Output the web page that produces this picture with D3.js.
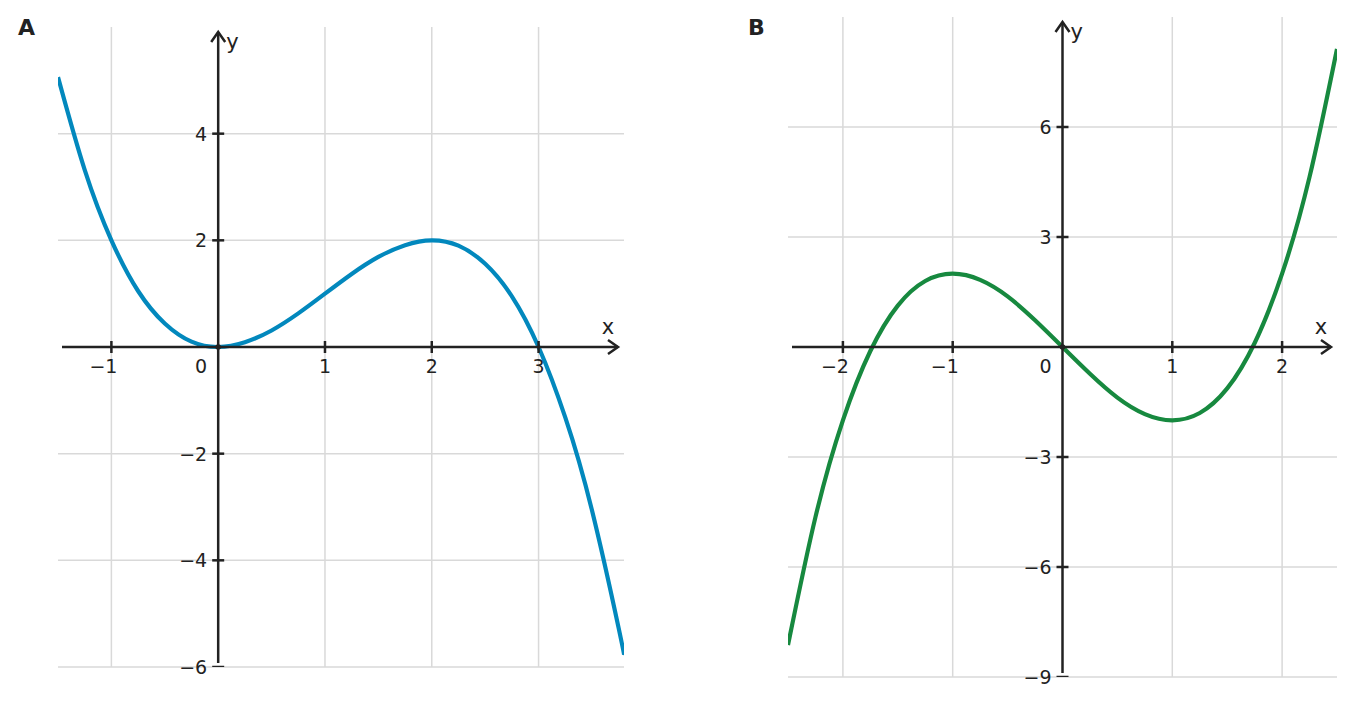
<!DOCTYPE html>
<html>
<head>
<meta charset="utf-8">
<script src="https://cdn.jsdelivr.net/npm/d3@7"></script>
<style>
    body { margin: 0; background: #ffffff; }
    svg { display: block; }
</style>
</head>
<body>
<svg id="chart" width="1355" height="705"></svg>
<script>

// panel A: samples
var panelAXValues = [-1.5, -1.25, -1, -0.75, -0.5, -0.25, 0, 0.25, 0.5, 0.75, 1, 1.25, 1.5, 1.75, 2, 2.25, 2.5, 2.75, 3, 3.25, 3.5, 3.75, 3.8]
var panelAYValues = [5.06, 3.32, 2, 1.05, 0.44, 0.1, 0, 0.09, 0.31, 0.63, 1, 1.37, 1.69, 1.91, 2, 1.9, 1.56, 0.95, 0, -1.32, -3.06, -5.27, -5.78]
var panelAXTicks = [-1, 1, 2, 3]
var panelAYTicks = [-6, -4, -2, 2, 4]

// panel B: samples
var panelBXValues = [-2.5, -2.25, -2, -1.75, -1.5, -1.25, -1, -0.75, -0.5, -0.25, 0, 0.25, 0.5, 0.75, 1, 1.25, 1.5, 1.75, 2, 2.25, 2.5]
var panelBYValues = [-8.13, -4.64, -2, -0.11, 1.13, 1.8, 2, 1.83, 1.38, 0.73, 0, -0.73, -1.38, -1.83, -2, -1.8, -1.13, 0.11, 2, 4.64, 8.13]
var panelBXTicks = [-2, -1, 1, 2]
var panelBYTicks = [-9, -6, -3, 3, 6]

var configuration = {
    axisColor: "#222222",
    gridColor: "#d9d9d9",
    fontFamily: "'DejaVu Sans', sans-serif",
    tickFontSize: 19,
    axisLabelFontSize: 21,
    tickHalfLength: 6
}

function CubicPanelBuilder(configuration, panel) {

    var x = d3.scaleLinear().domain(panel.xDomain).range([panel.left, panel.right])
    var y = d3.scaleLinear().domain(panel.yDomain).range([panel.bottom, panel.top])

    var originX = x(0)
    var originY = y(0)

    function clipId() {
        return "cubicPanel_" + panel.letter + "_clip"
    }

    function points() {
        return panel.xValues.map(function (value, index) {
            return [value, panel.yValues[index]]
        })
    }

    function drawGrid(container) {
        container.selectAll(".vgrid").data(panel.xTicks).enter().append("line")
            .attr("x1", function (d) { return x(d) })
            .attr("x2", function (d) { return x(d) })
            .attr("y1", panel.top)
            .attr("y2", panel.bottom)
            .attr("style", "stroke: " + configuration.gridColor + "; stroke-width: 1.5")

        container.selectAll(".hgrid").data(panel.yTicks).enter().append("line")
            .attr("x1", panel.left)
            .attr("x2", panel.right)
            .attr("y1", function (d) { return y(d) })
            .attr("y2", function (d) { return y(d) })
            .attr("style", "stroke: " + configuration.gridColor + "; stroke-width: 1.5")
    }

    function drawCurve(container) {
        var line = d3.line()
            .x(function (d) { return x(d[0]) })
            .y(function (d) { return y(d[1]) })
            .curve(d3.curveNatural)

        container.append("path")
            .attr("d", line(points()))
            .attr("fill", "none")
            .attr("clip-path", "url(#" + clipId() + ")")
            .attr("style", "stroke: " + panel.color + "; stroke-width: 4.2; stroke-linecap: butt")
    }

    function drawAxes(container) {
        var axisStyle = "stroke: " + configuration.axisColor + "; stroke-width: 2.5; fill: none"
        var xTip = panel.right - 6
        var yTip = panel.top + 5

        container.append("line")
            .attr("x1", panel.left + 4).attr("y1", originY)
            .attr("x2", xTip).attr("y2", originY)
            .attr("style", axisStyle)
        container.append("path")
            .attr("d", "M" + (xTip - 10) + "," + (originY - 7) + "L" + xTip + "," + originY + "L" + (xTip - 10) + "," + (originY + 7))
            .attr("style", axisStyle)

        container.append("line")
            .attr("x1", originX).attr("y1", panel.bottom - 4)
            .attr("x2", originX).attr("y2", yTip)
            .attr("style", axisStyle)
        container.append("path")
            .attr("d", "M" + (originX - 7) + "," + (yTip + 10) + "L" + originX + "," + yTip + "L" + (originX + 7) + "," + (yTip + 10))
            .attr("style", axisStyle)

        var ticks = container.append("g").attr("clip-path", "url(#" + clipId() + ")")
        ticks.selectAll(".xtick").data(panel.xTicks).enter().append("line")
            .attr("x1", function (d) { return x(d) })
            .attr("x2", function (d) { return x(d) })
            .attr("y1", originY - configuration.tickHalfLength)
            .attr("y2", originY + configuration.tickHalfLength)
            .attr("style", axisStyle)
        ticks.selectAll(".ytick").data(panel.yTicks).enter().append("line")
            .attr("x1", originX - configuration.tickHalfLength)
            .attr("x2", originX + configuration.tickHalfLength)
            .attr("y1", function (d) { return y(d) })
            .attr("y2", function (d) { return y(d) })
            .attr("style", axisStyle)

        container.append("circle")
            .attr("cx", originX).attr("cy", originY).attr("r", 2.8)
            .attr("fill", configuration.axisColor)
    }

    function textAt(container, content, px, py, anchor, size, weight) {
        return container.append("text")
            .attr("x", px).attr("y", py)
            .attr("text-anchor", anchor)
            .attr("font-family", configuration.fontFamily)
            .attr("font-size", size + "px")
            .attr("font-weight", weight || "normal")
            .attr("fill", configuration.axisColor)
            .text(content)
    }

    function drawTickLabels(container) {
        var baseline = originY + 26

        panel.xTicks.forEach(function (tick) {
            var digits = textAt(container, String(Math.abs(tick)), x(tick), baseline, "middle", configuration.tickFontSize)
            if (tick < 0) {
                var half = digits.node().getComputedTextLength() / 2
                textAt(container, "\u2212", x(tick) - half, baseline, "end", configuration.tickFontSize)
            }
        })

        panel.yTicks.forEach(function (tick) {
            var label = tick < 0 ? "\u2212" + Math.abs(tick) : String(tick)
            textAt(container, label, originX - 11, y(tick), "end", configuration.tickFontSize)
                .attr("dominant-baseline", "central")
        })

        textAt(container, "0", originX - 11, baseline, "end", configuration.tickFontSize)
        textAt(container, "x", panel.right - 16, originY - 13, "middle", configuration.axisLabelFontSize)
        textAt(container, "y", originX + 8, panel.top + 22, "start", configuration.axisLabelFontSize)
        textAt(container, panel.letter, panel.letterX, 35, "start", 22, "bold")
    }

    this.draw = function (svgContainer) {
        var mainContainer = svgContainer.append("g").attr("id", "cubicPanel_" + panel.letter)

        mainContainer.append("clipPath").attr("id", clipId())
            .append("rect")
            .attr("x", panel.left)
            .attr("y", panel.top)
            .attr("width", panel.right - panel.left)
            .attr("height", panel.bottom - panel.top)

        drawGrid(mainContainer)
        drawCurve(mainContainer)
        drawAxes(mainContainer)
        drawTickLabels(mainContainer)
    }
}

var svg = d3.select("#chart")

new CubicPanelBuilder(configuration, {
    letter: "A", letterX: 18, color: "#0288bd",
    left: 58, right: 624, top: 27, bottom: 667,
    xDomain: [-1.5, 3.8], yDomain: [-6, 6],
    xValues: panelAXValues, yValues: panelAYValues,
    xTicks: panelAXTicks, yTicks: panelAYTicks
}).draw(svg)

new CubicPanelBuilder(configuration, {
    letter: "B", letterX: 748, color: "#17893f",
    left: 788, right: 1337, top: 17, bottom: 677,
    xDomain: [-2.5, 2.5], yDomain: [-9, 9],
    xValues: panelBXValues, yValues: panelBYValues,
    xTicks: panelBXTicks, yTicks: panelBYTicks
}).draw(svg)

</script>
</body>
</html>
